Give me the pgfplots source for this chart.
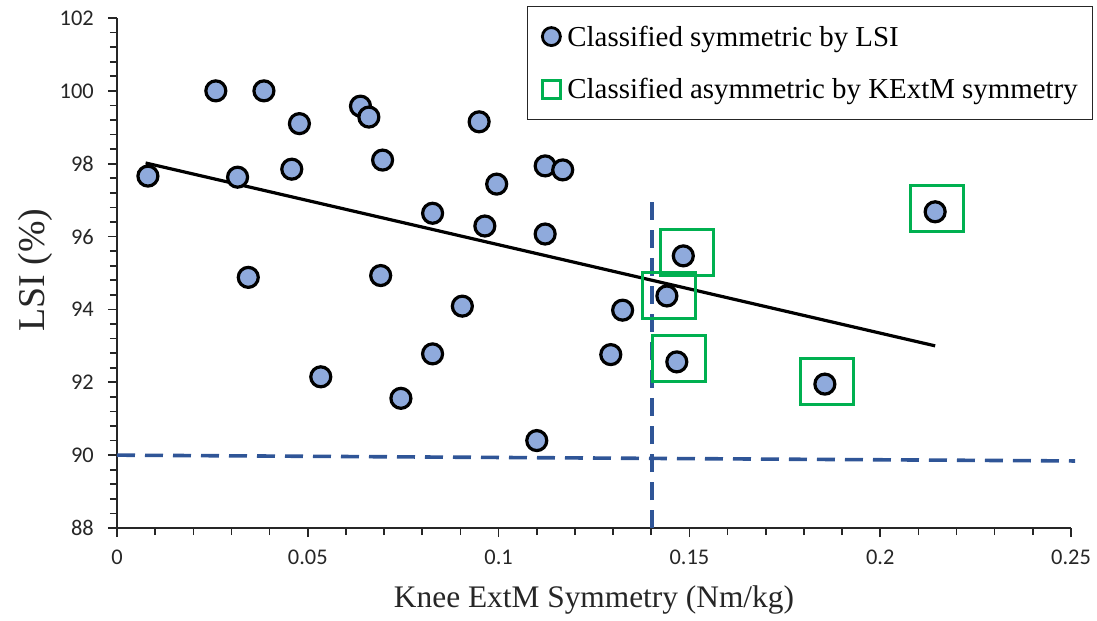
\documentclass[border=0pt]{standalone}
\usepackage{fontspec}
\setmainfont{Liberation Serif}
\newfontfamily\calibri{Carlito}
\usepackage{pgfplots}
\pgfplotsset{compat=1.18}
\definecolor{ptfill}{HTML}{8FAADC}
\definecolor{boxgreen}{HTML}{00B050}
\definecolor{dashblue}{HTML}{2F5597}
\pgfplotsset{onemark/.style={legend image code/.code={\path[draw=none,fill=none] (-24bp,-10bp) rectangle (16bp,10bp); \draw[##1] plot coordinates {(0bp,0bp)};}}}
\begin{document}
\begin{tikzpicture}
\useasboundingbox (-117bp,-93bp) rectangle (980bp,528bp);
\begin{axis}[
  at={(0,0)}, anchor=south west,
  scale only axis, width=954bp, height=510bp,
  xmin=0, xmax=0.25, ymin=88, ymax=102,
  clip=false,
  axis x line*=bottom, axis y line*=left,
  axis line style={-, black!85, line width=1.8bp},
  xtick={0,0.05,0.1,0.15,0.2,0.25},
  xticklabels={0,0.05,0.1,0.15,0.2,0.25},
  ytick={88,90,92,94,96,98,100,102},
  yticklabels={88,90,92,94,96,98,100,102},
  minor x tick num=4, minor y tick num=4,
  tick align=outside,
  major tick length=9bp, minor tick length=7bp,
  every tick/.style={black!85, line width=1.6bp},
  xticklabel style={font=\calibri\fontsize{22.5}{27}\selectfont, text=black!85, inner sep=0pt, anchor=north, yshift=-13bp},
  yticklabel style={font=\calibri\fontsize{22.5}{27}\selectfont, text=black!85, inner sep=0pt, anchor=east, xshift=-14bp},
  xlabel={Knee ExtM Symmetry (Nm/kg)},
  ylabel={LSI (\%)},
  xlabel style={font=\fontsize{31.5}{36}\selectfont, text=black!85, at={(axis description cs:0.5,-0.1412)}, anchor=center},
  ylabel style={font=\fontsize{38}{44}\selectfont, text=black!85, at={(axis description cs:-0.086,0.506)}, anchor=center},
  legend style={at={(1.0231,1.0235)}, anchor=north east,
    draw=black!85, line width=1.3bp, inner xsep=0pt, inner ysep=19bp,
    row sep=31bp, nodes={inner sep=0pt},
    font=\fontsize{29}{34}\selectfont},
  legend cell align=left,
]
\addplot[only marks, mark=*, mark size=10bp,
  mark options={fill=ptfill, draw=black, line width=3.2bp},
  onemark,
  legend image post style={mark size=9bp, mark options={fill=ptfill, draw=black, line width=2.8bp}}]
coordinates {
(0.0081,97.66) (0.0259,100.0) (0.0385,100.0) (0.0478,99.10) (0.0638,99.58)
(0.0660,99.28) (0.0949,99.15) (0.0316,97.63) (0.0458,97.85) (0.0696,98.10)
(0.1122,97.94) (0.1168,97.83) (0.0995,97.44) (0.0827,96.64) (0.0964,96.29)
(0.1122,96.07) (0.0344,94.88) (0.0691,94.93) (0.0905,94.09) (0.1325,93.98)
(0.0827,92.78) (0.1294,92.76) (0.0534,92.15) (0.0744,91.56) (0.1100,90.40)
(0.1484,95.47) (0.1441,94.37) (0.1467,92.56) (0.1855,91.95) (0.2144,96.68)
};
\addlegendentry{\makebox[525bp][l]{Classified symmetric by LSI}}
\addplot[forget plot, black, line width=3.2bp] coordinates {(0.0075,98.02) (0.2144,93.00)};
\addplot[forget plot, dashblue, line width=3.6bp, dash pattern=on 18bp off 10bp] coordinates {(0.1402,88) (0.1402,97.09)};
\addplot[forget plot, dashblue, line width=3.6bp, dash pattern=on 18bp off 10bp] coordinates {(0,90.0) (0.2511,89.84)};
\addplot[only marks, mark=square, mark size=26.5bp,
  mark options={draw=boxgreen, line width=3bp, yscale=0.868},
  onemark,
  legend image post style={mark size=9bp, mark options={draw=boxgreen, line width=2.6bp, yscale=1}}]
coordinates {
(0.1494,95.56) (0.1447,94.38) (0.1472,92.66) (0.1861,92.03) (0.2149,96.77)
};
\addlegendentry{\makebox[525bp][l]{Classified asymmetric by KExtM symmetry}}
\end{axis}
\end{tikzpicture}
\end{document}
